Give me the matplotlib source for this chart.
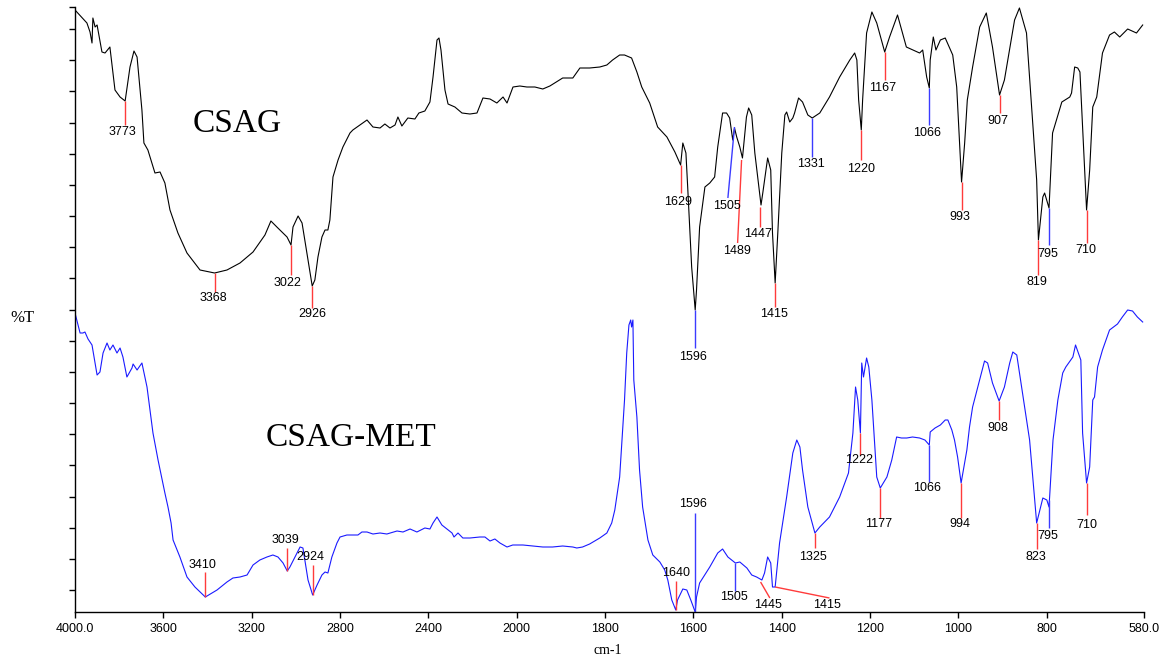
import numpy as np
import matplotlib
matplotlib.use("Agg")
import matplotlib.pyplot as plt

# CSAG spectrum (black), wavenumber in cm-1 and %T (arbitrary units)
csag_wn = [4000, 3946, 3932, 3923, 3919, 3909, 3900, 3878, 3864, 3842, 3819, 3796, 3773,
           3751, 3733, 3719, 3697, 3688, 3670, 3638, 3615, 3593, 3570, 3534, 3493, 3434,
           3368, 3312, 3253, 3194, 3140, 3113, 3086, 3040, 3022, 3013, 2990, 2972, 2950,
           2926, 2914, 2900, 2882, 2868, 2855, 2846, 2832, 2809, 2787, 2755, 2742, 2710,
           2678, 2651, 2619, 2597, 2574, 2551, 2538, 2520, 2493, 2461, 2443, 2416, 2393,
           2379, 2361, 2352, 2343, 2325, 2311, 2280, 2248, 2212, 2180, 2153, 2121, 2090,
           2062, 2044, 2017, 1993, 1977, 1959, 1941, 1925, 1896, 1873, 1857, 1835, 1812,
           1796, 1783, 1767, 1756, 1740, 1728, 1717, 1699, 1681, 1660, 1642, 1629, 1624,
           1617, 1613, 1604, 1596, 1593, 1586, 1574, 1563, 1552, 1545, 1534, 1525, 1518,
           1511, 1507, 1502, 1495, 1489, 1480, 1475, 1468, 1461, 1447, 1443, 1432, 1425,
           1421, 1415, 1409, 1400, 1393, 1389, 1382, 1375, 1371, 1362, 1353, 1341, 1331,
           1314, 1292, 1269, 1246, 1235, 1230, 1226, 1220, 1217, 1208, 1196, 1185, 1167,
           1156, 1138, 1118, 1088, 1081, 1072, 1066, 1064, 1057, 1051, 1041, 1030, 1020,
           1013, 1004, 993, 986, 980, 968, 952, 937, 923, 907, 896, 873, 862, 846, 823,
           819, 809, 805, 795, 787, 766, 748, 744, 737, 730, 725, 710, 703, 696, 687, 674,
           658, 647, 635, 617, 597, 583]
csag_t = [602, 589, 580, 569, 594, 585, 587, 560, 559, 565, 522, 515, 511,
          545, 561, 555, 502, 469, 462, 439, 440, 429, 402, 379, 359, 342,
          339, 342, 349, 360, 377, 391, 385, 375, 367, 385, 396, 389, 359,
          326, 332, 355, 375, 382, 382, 392, 435, 452, 465, 479, 482, 487,
          492, 485, 484, 488, 484, 487, 495, 486, 494, 493, 499, 501, 510,
          535, 572, 574, 562, 522, 508, 505, 499, 498, 499, 514, 513, 509,
          515, 509, 525, 526, 525, 525, 523, 526, 534, 534, 544, 544, 545,
          547, 552, 557, 557, 554, 540, 525, 509, 485, 475, 460, 447, 469,
          459, 425, 345, 302, 322, 385, 425, 429, 435, 465, 499, 499, 494,
          472, 484, 475, 465, 454, 495, 504, 497, 459, 407, 419, 454, 442,
          379, 329, 379, 459, 497, 500, 490, 494, 499, 514, 510, 497, 494,
          499, 515, 535, 552, 559, 552, 512, 482, 512, 579, 600, 589, 560,
          575, 597, 565, 559, 562, 535, 524, 552, 575, 562, 572, 574, 564,
          557, 525, 430, 469, 512, 545, 585, 599, 565, 517, 532, 592, 604, 579, 432,
          372, 415, 419, 404, 479, 510, 515, 519, 545, 544, 540, 402, 442, 505, 515, 559,
          577, 580, 575, 583, 579, 587]

# CSAG-MET spectrum (blue)
met_wn = [4000, 3977, 3964, 3955, 3941, 3923, 3900, 3887, 3873, 3855, 3842, 3828, 3810,
          3796, 3783, 3765, 3742, 3737, 3719, 3697, 3674, 3647, 3624, 3593, 3579, 3565,
          3556, 3525, 3493, 3457, 3410, 3357, 3312, 3285, 3253, 3221, 3194, 3163, 3131,
          3104, 3081, 3058, 3039, 3027, 3004, 2981, 2968, 2945, 2924, 2904, 2882, 2868,
          2855, 2837, 2814, 2800, 2769, 2719, 2701, 2678, 2651, 2619, 2588, 2542, 2515,
          2483, 2452, 2416, 2393, 2379, 2361, 2339, 2316, 2293, 2284, 2266, 2244, 2212,
          2167, 2144, 2121, 2099, 2076, 2044, 2018, 1986, 1964, 1941, 1919, 1896, 1873,
          1864, 1851, 1835, 1812, 1796, 1785, 1778, 1767, 1756, 1751, 1746, 1742, 1740,
          1737, 1735, 1728, 1722, 1715, 1703, 1692, 1676, 1665, 1658, 1649, 1640, 1636,
          1624, 1615, 1606, 1596, 1593, 1586, 1563, 1545, 1534, 1522, 1505, 1495, 1479,
          1468, 1457, 1445, 1439, 1432, 1425, 1421, 1415, 1405, 1389, 1375, 1366, 1359,
          1353, 1341, 1325, 1314, 1292, 1269, 1249, 1239, 1233, 1228, 1222, 1219, 1215,
          1208, 1203, 1196, 1185, 1177, 1162, 1151, 1140, 1129, 1117, 1104, 1088, 1076,
          1066, 1064, 1053, 1041, 1030, 1024, 1015, 1009, 1002, 994, 981, 975, 968, 952,
          941, 934, 923, 908, 896, 884, 877, 868, 855, 839, 823, 809, 800, 795, 786, 775,
          764, 757, 746, 741, 735, 723, 719, 710, 703, 696, 692, 685, 674, 658, 640, 629,
          617, 606, 595, 583]
met_t = [299, 279, 279, 280, 273, 267, 237, 240, 259, 269, 262, 267, 259,
         264, 255, 235, 244, 248, 242, 249, 225, 179, 152, 119, 105, 89,
         72, 55, 35, 25, 15, 22, 30, 34, 35, 37, 47, 52, 55,
         57, 55, 49, 41, 45, 55, 65, 64, 32, 17, 27, 37, 40,
         39, 55, 69, 75, 77, 77, 80, 80, 78, 79, 78, 81, 80,
         83, 80, 84, 83, 89, 95, 87, 83, 79, 75, 79, 74, 74,
         75, 75, 71, 73, 69, 65, 67, 67, 66, 65, 65, 66, 65,
         64, 65, 68, 74, 79, 89, 102, 135, 212, 259, 287, 292, 285,
         292, 232, 195, 142, 105, 72, 57, 50, 42, 32, 12, 2, 12,
         23, 22, 12, 0, 15, 29, 45, 59, 63, 55, 49, 50, 44,
         37, 35, 32, 39, 55, 49, 25, 25, 69, 115, 159, 172, 165,
         142, 105, 79, 85, 95, 115, 139, 179, 225, 212, 179, 249, 235,
         254, 245, 212, 135, 124, 135, 152, 175, 174, 174, 175, 174, 172,
         167, 180, 184, 187, 192, 192, 182, 172, 155, 129, 162, 185, 205, 232,
         251, 249, 229, 211, 225, 249, 260, 257, 219, 172, 89, 114, 112, 105, 172, 212,
         239, 245, 252, 255, 267, 252, 179, 129, 145, 212, 215, 245, 262, 282, 288, 295,
         302, 301, 295, 290]

# peak picks: label, tip (wn, T), line end (wn, T), text centre (wn, T), colour
peaks = [
    ("3773", 3773, 511, 3773, 487, 3783, 480, "r"),
    ("3368", 3368, 339, 3368, 320, 3375, 314, "r"),
    ("3022", 3022, 367, 3022, 337, 3036, 329, "r"),
    ("2926", 2926, 326, 2926, 304, 2927, 298, "r"),
    ("1629", 1629, 447, 1629, 419, 1635, 410, "r"),
    ("1596", 1596, 302, 1596, 264, 1602, 255, "b"),
    ("1505", 1507, 485, 1522, 414, 1525, 406, "b"),
    ("1489", 1491, 452, 1500, 369, 1502, 361, "r"),
    ("1447", 1450, 405, 1450, 385, 1454, 378, "r"),
    ("1415", 1415, 329, 1415, 305, 1418, 298, "r"),
    ("1331", 1331, 494, 1331, 455, 1335, 448, "b"),
    ("1220", 1220, 482, 1220, 452, 1221, 443, "r"),
    ("1167", 1167, 560, 1167, 532, 1172, 524, "r"),
    ("1066", 1066, 524, 1066, 487, 1070, 479, "b"),
    ("993", 993, 430, 993, 402, 997, 395, "r"),
    ("907", 907, 517, 907, 499, 911, 491, "r"),
    ("819", 819, 372, 819, 337, 823, 330, "r"),
    ("795", 795, 404, 795, 367, 798, 358, "b"),
    ("710", 710, 402, 710, 369, 712, 362, "r"),
    # CSAG-MET
    ("3410", 3410, 15, 3410, 40, 3421, 47, "r"),
    ("3039", 3039, 41, 3039, 64, 3049, 72, "r"),
    ("2924", 2924, 17, 2924, 47, 2936, 55, "r"),
    ("1640", 1640, 2, 1640, 31, 1640, 39, "r"),
    ("1596", 1596, 0, 1596, 99, 1602, 108, "b"),
    ("1505", 1505, 49, 1505, 21, 1509, 15, "b"),
    ("1445", 1448, 30, 1427, 14, 1432, 7, "r"),
    ("1415", 1415, 25, 1292, 14, 1298, 7, "r"),
    ("1325", 1325, 79, 1325, 64, 1330, 55, "r"),
    ("1222", 1222, 179, 1222, 157, 1226, 152, "r"),
    ("1177", 1177, 124, 1177, 94, 1181, 88, "r"),
    ("1066", 1066, 167, 1066, 130, 1070, 124, "b"),
    ("994", 994, 129, 994, 94, 997, 88, "r"),
    ("908", 908, 211, 908, 192, 911, 184, "r"),
    ("823", 823, 89, 823, 63, 825, 55, "r"),
    ("795", 795, 112, 795, 84, 798, 76, "b"),
    ("710", 710, 129, 710, 97, 710, 87, "r"),
]

x_ticks = [4000, 3600, 3200, 2800, 2400, 2000, 1800, 1600, 1400, 1200, 1000, 800, 580]
x_tick_labels = ["4000.0", "3600", "3200", "2800", "2400", "2000", "1800", "1600",
                 "1400", "1200", "1000", "800", "580.0"]


# instrument style axis: 2x expansion below 2000 cm-1
def fwd(x):
    x = np.asarray(x, dtype=float)
    return np.where(x >= 2000, x, 2000 - (2000 - x) * 2)


def inv(y):
    y = np.asarray(y, dtype=float)
    return np.where(y >= 2000, y, 2000 - (2000 - y) / 2)


W, H = 1163, 657
fig = plt.figure(figsize=(W / 100, H / 100), dpi=100)
ax = fig.add_axes([75 / W, 45 / H, (1144 - 75) / W, (612 - 7) / H])
ax.set_xscale("function", functions=(fwd, inv))
ax.set_xlim(4000, 580)
ax.set_ylim(0, 605)

ax.plot(csag_wn, csag_t, color="black", lw=0.8)
ax.plot(met_wn, met_t, color="#1a1aff", lw=0.8)

colors = {"r": "#ff3b3b", "b": "#3b3bff"}
for lab, x0, y0, x1, y1, tx, ty, c in peaks:
    ax.plot([x0, x1], [y0, y1], color=colors[c], lw=1, solid_capstyle="butt")
    ax.text(tx, ty, lab, ha="center", va="center", fontsize=9,
            family="Liberation Sans", color="black")

ax.text(3267, 488, "CSAG", ha="center", va="center", fontsize=24, family="Liberation Serif")
ax.text(2751, 174, "CSAG-MET", ha="center", va="center", fontsize=24, family="Liberation Serif")

for s in ["top", "right"]:
    ax.spines[s].set_visible(False)
ax.spines["left"].set_linewidth(1)
ax.spines["bottom"].set_linewidth(1)

ax.set_xticks(x_ticks)
ax.set_xticklabels(x_tick_labels, family="Liberation Sans", fontsize=9)
ax.xaxis.set_minor_locator(matplotlib.ticker.NullLocator())
ax.set_yticks(list(np.linspace(22, 583, 19)) + [605])
ax.tick_params(axis="y", direction="out", length=4, width=1, labelleft=False)
ax.tick_params(axis="x", direction="out", length=4, width=1, pad=4)

fig.text(22 / W, 1 - 318 / H, "%T", ha="center", va="center", fontsize=12, family="Liberation Serif")
fig.text(608 / W, 1 - 650 / H, "cm-1", ha="center", va="center", fontsize=10, family="Liberation Serif")

fig.savefig("out.png", dpi=100)
